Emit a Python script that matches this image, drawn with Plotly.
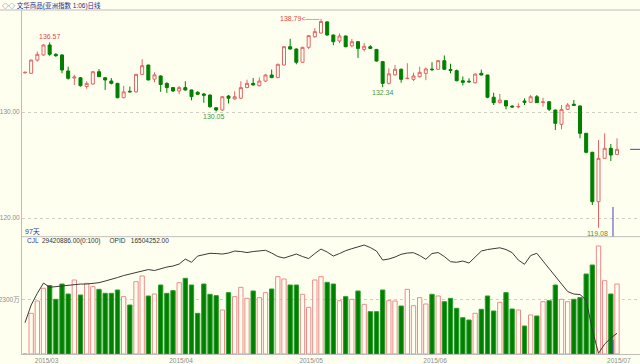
import plotly.graph_objects as go

# ---------------- data ----------------
opens = [133.70,133.65,134.90,135.38,136.32,135.44,135.38,133.87,133.20,133.23,
         132.40,132.64,133.80,133.23,132.92,132.70,131.35,131.95,131.90,133.55,
         134.43,133.10,133.40,132.70,132.30,131.98,132.30,132.08,131.86,131.70,
         131.60,130.40,130.19,131.50,131.23,131.30,132.30,132.70,132.48,132.92,
         133.49,133.24,134.43,136.16,135.94,134.69,136.10,137.10,137.45,138.50,
         137.26,136.70,137.17,136.23,136.63,135.90,136.16,135.90,134.75,132.70,
         133.50,134.03,133.15,133.08,133.33,133.65,134.05,134.03,134.84,134.00,
         133.90,132.95,132.90,132.76,133.65,133.49,131.39,130.88,131.07,130.55,
         130.48,131.04,130.92,131.44,130.90,130.97,130.19,128.84,130.25,130.73,
         130.57,127.99,126.20,121.54,125.63,126.58,126.00]
highs = [133.82,134.95,135.70,136.40,136.57,135.55,135.45,134.27,133.50,133.30,
         132.90,133.85,134.05,133.30,133.20,132.75,132.47,132.40,133.60,134.98,
         134.45,133.75,133.45,132.80,132.35,132.45,132.90,132.10,131.95,131.80,
         131.65,130.45,131.50,131.60,131.95,132.90,133.05,133.20,133.25,133.60,
         134.00,134.55,136.20,136.90,136.00,136.15,137.25,137.90,138.79,138.55,
         137.30,137.42,137.20,136.90,136.70,136.50,136.30,135.95,134.80,134.12,
         134.43,134.10,134.60,133.71,134.27,134.20,134.70,134.90,135.33,134.55,
         134.00,133.35,133.18,133.62,134.00,133.50,131.82,131.70,131.10,130.65,
         130.82,131.29,131.60,131.60,131.35,131.00,130.22,130.66,130.85,131.13,
         130.60,128.00,126.25,127.36,127.99,126.98,127.52]
lows = [133.62,133.60,134.75,135.30,135.30,135.20,133.65,133.05,132.55,132.40,
        132.20,132.60,133.30,132.08,132.60,131.30,131.30,131.87,131.85,133.50,
        133.00,132.80,131.90,131.80,131.90,131.70,132.00,131.10,131.60,130.87,
        130.40,130.05,130.10,130.80,131.15,131.20,132.25,132.50,132.40,132.85,
        133.20,133.20,134.40,135.90,134.50,134.65,135.94,137.00,137.40,137.20,
        136.30,136.50,136.10,136.10,135.10,135.70,135.95,134.75,132.34,132.60,
        133.45,132.76,133.10,132.92,133.24,133.00,133.85,133.98,133.98,133.65,
        132.90,132.50,132.75,132.70,133.45,131.30,130.66,130.80,130.25,130.40,
        130.35,130.66,130.85,130.85,130.50,130.10,128.30,128.37,130.20,130.60,
        127.52,126.10,121.23,119.08,125.60,125.38,125.95]
closes = [133.74,134.90,135.44,136.32,135.44,135.31,133.96,133.18,133.30,132.48,
          132.70,133.80,133.33,133.02,132.70,131.35,131.90,131.90,133.55,134.37,
          133.02,133.50,132.60,132.30,131.98,132.30,132.08,131.45,131.67,131.58,
          130.50,130.19,131.44,131.30,131.44,132.30,132.70,132.55,132.92,133.49,
          133.24,134.50,136.16,135.94,134.69,136.10,137.20,137.58,138.54,137.26,
          136.63,137.17,136.16,136.63,136.00,136.20,136.00,134.81,132.70,133.60,
          134.03,133.08,133.18,133.40,133.74,134.06,134.00,134.84,134.03,133.92,
          132.95,132.80,132.85,133.58,133.49,131.39,130.88,131.13,130.57,130.48,
          130.52,130.92,131.44,130.88,130.95,130.25,128.93,130.25,130.66,130.63,
          127.99,126.20,121.54,125.63,126.58,125.94,126.48]
# volume (CJL) in 万
volume = [0,1711,2229,2763,2880,2300,2943,2523,3112,2481,
          2972,2831,2719,2551,2551,2691,2411,2060,3042,3280,
          2439,2523,2901,2551,2663,2998,3183,2901,1711,2943,
          2510,2453,1850,2579,2411,2803,2341,2649,2369,2579,
          2733,3252,3154,2901,2901,2510,1963,3112,3252,3014,
          2943,2241,2411,2300,2649,2088,1779,1779,2691,2241,
          2229,2018,2719,2031,2369,2102,2510,2439,2199,2341,
          1922,1526,1430,1711,1880,2439,1808,2174,2579,1892,
          1850,1177,1640,1598,2199,2241,2901,2300,2199,2300,
          2369,3364,3742,4541,3082,2523,2942]
# open interest (OPID) in 万
oi = [1735,1876,1970,2052,2018,2024,2028,2032,2036,2044,
      2044,2048,2055,2068,2080,2096,2112,2124,2140,2152,
      2160,2152,2168,2180,2188,2204,2244,2218,2268,2280,
      2290,2288,2284,2292,2308,2304,2296,2304,2311,2314,
      2292,2264,2252,2268,2284,2264,2248,2288,2324,2300,
      2268,2288,2311,2327,2340,2356,2336,2308,2236,2244,
      2260,2282,2292,2295,2272,2242,2288,2296,2264,2223,
      2218,2228,2212,2260,2308,2320,2330,2334,2320,2295,
      2236,2202,2272,2290,2228,2168,2108,2052,1984,1964,
      1960,1916,1676,1490,1564,1612,1650]
month_pos = [3.5, 25.3, 46.4, 66.5, 96.3]
month_labels = ["2015/03", "2015/04", "2015/05", "2015/06", "2015/07"]
price_ticks = [120, 130]
price_tick_text = ["120.00", "130.00"]
vol_ticks = [2300]
vol_tick_text = ["2300万"]

x = list(range(len(opens)))

# ---------------- style ----------------
BG = "#FFFFF0"
UP = "#E06666"
DOWN = "#008000"
GRID = "#CFCFC6"
AX = "#BDBDBD"
FONT = "Liberation Sans, Noto Sans CJK SC, sans-serif"

fig = go.Figure()

fig.add_trace(go.Candlestick(
    x=x, open=opens, high=highs, low=lows, close=closes,
    increasing=dict(line=dict(color=UP, width=1), fillcolor=BG),
    decreasing=dict(line=dict(color=DOWN, width=1), fillcolor=DOWN),
    whiskerwidth=0, xaxis="x", yaxis="y", showlegend=False, hoverinfo="skip"))

up_flags = [c >= o for o, c in zip(opens, closes)]
fig.add_trace(go.Bar(
    x=x, y=volume, width=0.7,
    marker=dict(color=[BG if u else DOWN for u in up_flags],
                line=dict(color=["#EE8A8A" if u else "#2E9E2E" for u in up_flags], width=1)),
    xaxis="x2", yaxis="y2", showlegend=False, hoverinfo="skip"))

fig.add_trace(go.Scatter(
    x=x, y=oi, mode="lines", line=dict(color="#3A3A3A", width=1),
    xaxis="x2", yaxis="y3", showlegend=False, hoverinfo="skip"))

XR = [-0.486, 99.73]
VOL_TOP = 0.341

fig.update_layout(
    width=640, height=364,
    margin=dict(l=22, r=0, t=10, b=10),
    paper_bgcolor=BG, plot_bgcolor=BG,
    font=dict(family=FONT, size=7, color="#808080"),
    boxgap=0.3,
    xaxis=dict(domain=[0, 1], range=XR, showgrid=False, showticklabels=False,
               zeroline=False, rangeslider=dict(visible=False), anchor="y"),
    xaxis2=dict(domain=[0, 1], range=XR, showgrid=False, zeroline=False, anchor="y2",
                tickvals=month_pos, ticktext=month_labels, ticks="",
                ticklabelstandoff=0,
                tickfont=dict(size=6.5, color="#8C8C8C", family=FONT),
                showline=True, linecolor=AX, linewidth=1),
    yaxis=dict(domain=[VOL_TOP, 1], range=[118.24, 139.62], tickvals=price_ticks,
               ticktext=price_tick_text, showgrid=True, gridcolor=GRID, griddash="dot",
               gridwidth=1, zeroline=False, ticks="", showline=True, linecolor=AX,
               tickfont=dict(size=6.5, color="#8C8C8C", family=FONT), anchor="x"),
    yaxis2=dict(domain=[0, VOL_TOP], range=[0, 4932], tickvals=vol_ticks,
                ticktext=vol_tick_text, showgrid=True, gridcolor=GRID, griddash="dot",
                zeroline=False, ticks="", showline=True, linecolor=AX,
                tickfont=dict(size=6.5, color="#8C8C8C", family=FONT), anchor="x2"),
    yaxis3=dict(overlaying="y2", range=[1484.4, 2422.8], visible=False),
)

shapes = []
# title separator and panel separator
shapes.append(dict(type="line", xref="paper", yref="paper", x0=-0.04, x1=1,
                   y0=1.0, y1=1.0, line=dict(color=AX, width=1)))
shapes.append(dict(type="line", xref="paper", yref="paper", x0=0, x1=1,
                   y0=VOL_TOP, y1=VOL_TOP, line=dict(color=AX, width=1)))
# last price marker on right edge
shapes.append(dict(type="line", xref="paper", yref="y", x0=0.984, x1=1,
                   y0=closes[-1], y1=closes[-1], line=dict(color="#4444BB", width=1)))
# cursor marks
shapes.append(dict(type="line", xref="x", yref="y", x0=95.35, x1=95.35,
                   y0=118.24, y1=121.04, line=dict(color="#4444BB", width=1)))
shapes.append(dict(type="line", xref="x2", yref="y2", x0=95.35, x1=95.35,
                   y0=0, y1=590, line=dict(color="#4444BB", width=1)))
fig.update_layout(shapes=shapes)

RED_T = "#E04848"
GRN_T = "#3C9A3C"
ann = []
ann.append(dict(x=4, y=highs[4], xref="x", yref="y", text="136.57", showarrow=False,
                yanchor="bottom", yshift=0, font=dict(color=RED_T, size=7)))
ann.append(dict(x=31, y=lows[31], xref="x", yref="y", text="130.05", showarrow=False,
                yanchor="top", yshift=0, xshift=-2, font=dict(color=GRN_T, size=7)))
ann.append(dict(x=48, y=highs[48], xref="x", yref="y", text="138.79<——", showarrow=False,
                xanchor="right", yanchor="middle", xshift=1, font=dict(color=RED_T, size=7)))
ann.append(dict(x=58, y=lows[58], xref="x", yref="y", text="132.34", showarrow=False,
                yanchor="top", font=dict(color=GRN_T, size=7)))
ann.append(dict(x=93, y=lows[93], xref="x", yref="y", text="119.08", showarrow=False,
                yanchor="top", xshift=-1, font=dict(color=GRN_T, size=7)))
ann.append(dict(x=0.002, y=0.3547, xref="paper", yref="paper", text="97天", showarrow=False,
                xanchor="left", yanchor="middle", font=dict(color="#2A3A9A", size=7)))
ann.append(dict(x=0.005, y=0.3285, xref="paper", yref="paper",
                text="<span style='color:#2A3A9A'>CJL</span>  29420886.00(0:100)     OPID   16504252.00",
                showarrow=False, xanchor="left", yanchor="middle",
                font=dict(color="#333333", size=6.5)))
ann.append(dict(x=-22/618, y=1.0 + 4.5/344, xref="paper", yref="paper",
                text="◇◇ 文华商品(亚洲指数 1:06)日线", showarrow=False,
                xanchor="left", yanchor="middle", font=dict(color="#1A2A8A", size=6.5)))
fig.update_layout(annotations=ann)

fig.write_html("out.html",
               config={"displayModeBar": False, "staticPlot": True},
               post_script="document.body.style.margin='0';document.body.style.overflow='hidden';"
                           "document.body.style.background='#FFFFF0';")
